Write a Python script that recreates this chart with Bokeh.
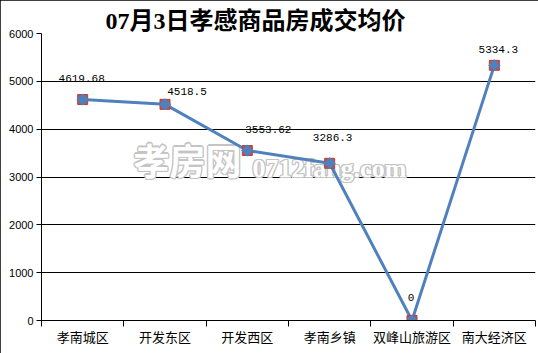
import numpy as np
from bokeh.plotting import figure
from bokeh.models import FixedTicker, Label, ColumnDataSource, Range1d
from bokeh.core.properties import value
from bokeh.embed import file_html
from bokeh.resources import INLINE

# ---- data ----
title_text = "07月3日孝感商品房成交均价"
categories = ["孝南城区", "开发东区", "开发西区", "孝南乡镇", "双峰山旅游区", "南大经济区"]
prices = [4619.68, 4518.5, 3553.62, 3286.3, 0, 5334.3]
price_labels = ["4619.68", "4518.5", "3553.62", "3286.3", "0", "5334.3"]
y_ticks = [0, 1000, 2000, 3000, 4000, 5000, 6000]

# label pixel offsets (styling)
label_dx = [-1, 22, 21, 3, -1, 4]
label_dy = [-21.5, -13, -21.5, -26, -23, -16]

W, H = 538, 353
L, R, T, B = 41, 3, 33, 33
FW = W - L - R
FH = H - T - B
n = len(categories)

def dx(px):
    return (px - L) / (FW / n)

def dy(py):
    return (H - B - py) / (FH / 6000)

p = figure(width=W, height=H, output_backend="svg", toolbar_location=None,
           x_range=Range1d(0, n), y_range=Range1d(0, 6000),
           min_border_left=L, min_border_right=R, min_border_top=T, min_border_bottom=B)
p.outline_line_color = None
p.background_fill_color = "white"
p.border_fill_color = "white"
p.styles = {"outline": "2px solid black", "outline-offset": "-2px"}

# title
p.title.text = title_text
p.title.text_font = "'Liberation Serif', 'Noto Sans CJK SC'"
p.title.text_font_size = "24px"
p.title.text_font_style = "bold"
p.title.text_color = "black"
p.title.align = "left"
p.title.offset = 64
p.title.standoff = 0

xs = [i + 0.5 for i in range(n)]
src = ColumnDataSource(dict(x=xs, y=prices, lab=price_labels, dxo=label_dx, dyo=label_dy))

# watermark (outlined look)
wm_font_cjk = "'Noto Sans CJK SC'"
offs = [(-1, -1), (-1, 1), (1, -1), (1, 1), (0, 1.3), (0, -1.3), (1.3, 0), (-1.3, 0)]
for (ox, oy) in offs + [(0, 0)]:
    col = "white" if (ox, oy) == (0, 0) else "#c4c4c4"
    l1 = Label(x=dx(187), y=dy(158), text="孝房网", text_font=wm_font_cjk, text_font_size="36px",
               text_font_style="bold", text_color=col, text_align="center", text_baseline="middle",
               x_offset=ox, y_offset=oy, level="underlay")
    l2 = Label(x=dx(252), y=dy(168), text="0712fang.com", text_font="Liberation Serif", text_font_size="26px",
               text_font_style="bold", text_color=col, text_align="left", text_baseline="alphabetic",
               x_offset=ox, y_offset=oy, level="underlay")
    p.add_layout(l1)
    p.add_layout(l2)

p.line("x", "y", source=src, line_color="#4F81BD", line_width=3)
p.scatter("x", "y", source=src, marker="square", size=10, fill_color="#C0504D", line_color="#B5403D")
p.scatter("x", "y", source=src, marker="square", size=8, angle=np.pi / 4,
          fill_color="#4F81BD", line_color="#4F81BD")

p.text("x", "y", text="lab", source=src, x_offset="dxo", y_offset="dyo",
       text_align="center", text_baseline="middle", text_font=value("Liberation Mono"),
       text_font_size="11px", text_color="black")

# axes
p.yaxis.ticker = FixedTicker(ticks=y_ticks)
p.yaxis.minor_tick_line_color = None
p.yaxis.major_tick_out = 5
p.yaxis.major_tick_in = 0
p.yaxis.major_label_standoff = 3
p.yaxis.axis_line_color = "black"
p.yaxis.major_tick_line_color = "black"
p.yaxis.major_label_text_font = "Liberation Sans"
p.yaxis.major_label_text_font_size = "11px"
p.yaxis.major_label_text_color = "black"

p.xaxis.ticker = FixedTicker(ticks=xs, minor_ticks=list(range(n + 1)))
p.xaxis.major_label_overrides = {x: c for x, c in zip(xs, categories)}
p.xaxis.major_tick_out = 0
p.xaxis.major_tick_in = 0
p.xaxis.minor_tick_out = 6
p.xaxis.minor_tick_in = 0
p.xaxis.minor_tick_line_color = "black"
p.xaxis.axis_line_color = "black"
p.xaxis.major_label_standoff = 0
p.xaxis.major_label_text_font = "'Noto Sans CJK SC'"
p.xaxis.major_label_text_font_size = "13px"
p.xaxis.major_label_text_color = "black"

p.xgrid.grid_line_color = None
p.ygrid.ticker = FixedTicker(ticks=y_ticks)
p.ygrid.grid_line_color = "black"
p.ygrid.grid_line_alpha = 1
p.ygrid.grid_line_width = 1

open("out.html", "w").write(file_html(p, INLINE))
